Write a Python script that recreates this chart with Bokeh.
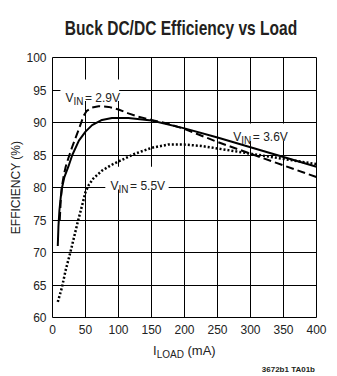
from bokeh.plotting import figure
from bokeh.models import Label, BoxAnnotation, FixedTicker, Div
from bokeh.layouts import column
from bokeh.embed import file_html
from bokeh.resources import INLINE

# ---- data ----
load_36 = [8, 9, 10.5, 12.5, 14.5, 18, 24, 30, 40, 50, 60, 75, 90, 115, 150, 200, 250, 300, 350, 400]
eff_36 = [71, 74, 76.5, 78.5, 80, 81.6, 83.2, 85, 87.2, 88.6, 89.6, 90.4, 90.7, 90.7, 90.3, 89.1, 87.7, 86.2, 84.7, 83.2]

load_29 = [11, 12.5, 14, 17, 20, 24, 30, 40, 47, 52, 60, 70, 85, 100, 115, 130, 150, 175, 200, 250, 300, 350, 400]
eff_29 = [75, 78, 80, 81.8, 83.2, 84.5, 86.3, 89, 91, 91.8, 92.3, 92.5, 92.4, 92.0, 91.4, 90.9, 90.4, 89.8, 89.0, 87.0, 85.2, 83.4, 81.6]

load_55 = [8, 14, 20, 27, 33, 39, 45, 50, 55, 62, 75, 90, 100, 125, 150, 175, 200, 225, 250, 300, 350, 400]
eff_55 = [62.4, 64.5, 67.3, 70, 72.5, 75, 77.3, 79.3, 80.4, 81.4, 82.6, 83.5, 84.0, 85.2, 86.1, 86.6, 86.6, 86.4, 86.0, 85.2, 84.4, 83.6]

x_ticks = [0, 50, 100, 150, 200, 250, 300, 350, 400]
y_ticks = [60, 65, 70, 75, 80, 85, 90, 95, 100]

title_text = "Buck DC/DC Efficiency vs Load"
y_label = "EFFICIENCY (%)"
footnote = "3672b1 TA01b"

FONT = "Liberation Sans"
TXT = "#222222"

# ---- title (HTML text, condensed by a horizontal scale) ----
title_div = Div(
    text=(f'<div style="position:relative;width:337px;height:46px;">'
          f'<div style="position:absolute;left:24px;top:17px;width:314px;text-align:center;'
          f'font-family:\'{FONT}\';font-weight:bold;font-size:21px;line-height:21px;color:#231f20;'
          f'white-space:nowrap;transform:scaleX(0.74);transform-origin:center;">{title_text}</div></div>'),
    width=337, height=46, margin=0)

# ---- chart ----
p = figure(width=337, height=297, x_range=(0, 400), y_range=(60, 100),
           output_backend="svg", toolbar_location=None, title=None,
           min_border_left=52, min_border_right=21, min_border_top=11, min_border_bottom=26,
           margin=0)
p.background_fill_color = "white"
p.border_fill_color = "white"
p.outline_line_color = "black"
p.outline_line_width = 1

for ax in (p.xaxis[0], p.yaxis[0]):
    ax.major_tick_line_color = None
    ax.minor_tick_line_color = None
    ax.major_tick_out = 0
    ax.major_tick_in = 0
    ax.axis_line_color = None
    ax.major_label_text_font = FONT
    ax.major_label_text_font_size = "12px"
    ax.major_label_text_color = TXT

p.xaxis.ticker = FixedTicker(ticks=x_ticks)
p.yaxis.ticker = FixedTicker(ticks=y_ticks)
p.xaxis.major_label_standoff = 7
p.yaxis.major_label_standoff = 6
p.yaxis.axis_label = y_label
p.yaxis.axis_label_text_font = FONT
p.yaxis.axis_label_text_font_size = "12px"
p.yaxis.axis_label_text_font_style = "normal"
p.yaxis.axis_label_text_color = TXT
p.yaxis.axis_label_standoff = 0

p.xgrid.ticker = FixedTicker(ticks=x_ticks)
p.ygrid.ticker = FixedTicker(ticks=y_ticks)
for g in (p.xgrid[0], p.ygrid[0]):
    g.grid_line_color = "black"
    g.grid_line_width = 1
    g.grid_line_alpha = 1.0

# white boxes behind the in-plot labels (above the grid, below the curves)
for l, r, b, t in [(12, 101, 93.3, 96.6), (268, 365, 87.15, 89.85), (80, 176, 79.7, 83.2)]:
    p.add_layout(BoxAnnotation(left=l, right=r, bottom=b, top=t, fill_color="white",
                               fill_alpha=1.0, line_color=None, level="underlay"))

p.line(load_29, eff_29, line_color="black", line_width=2, line_dash="8 4")
p.line(load_36, eff_36, line_color="black", line_width=2)
p.line(load_55, eff_55, line_color="black", line_width=2.5, line_dash="2 2")


def lab(x, y, text, size, dx=0, dy=0):
    p.add_layout(Label(x=x, y=y, x_offset=dx, y_offset=dy, text=text,
                       text_font=FONT, text_font_size=f"{size}px",
                       text_color=TXT, text_align="left", text_baseline="alphabetic"))


def vin_label(x, y, rest):
    lab(x, y, "V", 12)
    lab(x, y, "IN", 10, dx=8, dy=-3)
    lab(x, y, rest, 12, dx=19.5)


vin_label(19.7, 93.75, " = 2.9V")
vin_label(274, 87.75, " = 3.6V")
vin_label(88, 80.2, " = 5.5V")

# ---- x axis label and footnote (HTML text with a real subscript) ----
bottom_div = Div(
    text=(f'<div style="position:relative;width:337px;height:33px;font-family:\'{FONT}\';color:{TXT};">'
          f'<span style="position:absolute;left:153px;top:1px;font-size:13px;line-height:13px;white-space:nowrap;">'
          f'I<span style="font-size:10px;position:relative;top:3px;">LOAD</span> (mA)</span>'
          f'<span style="position:absolute;right:22px;top:23px;font-size:8px;line-height:8px;font-weight:bold;'
          f'color:#231f20;white-space:nowrap;">{footnote}</span></div>'),
    width=337, height=33, margin=0)

layout = column(title_div, p, bottom_div, spacing=0, margin=0)

open("out.html", "w").write(file_html(layout, INLINE))
